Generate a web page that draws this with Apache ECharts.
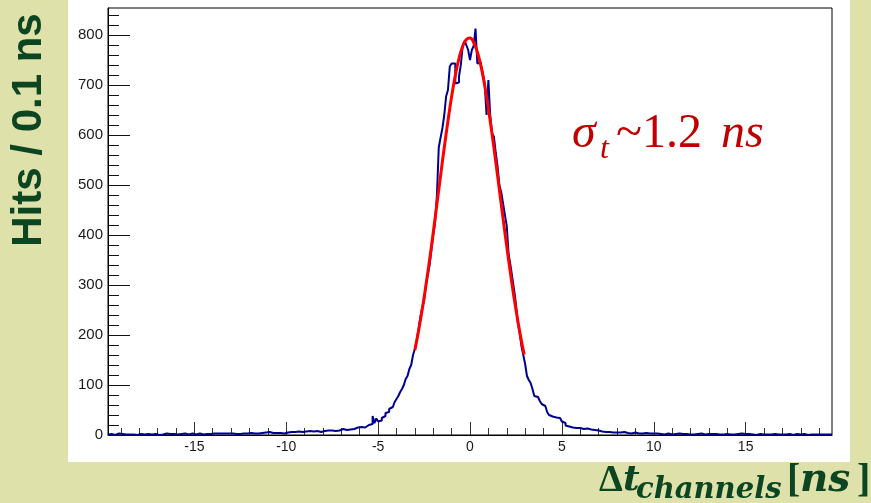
<!DOCTYPE html>
<html>
<head>
<meta charset="utf-8">
<script src="https://cdn.jsdelivr.net/npm/echarts@6/dist/echarts.min.js"></script>
<style>
html,body{margin:0;padding:0;background:#dfe1ab;}
#chart{width:871px;height:503px;}
</style>
</head>
<body>
<div id="chart"></div>
<script>
// Histogram: bin edges start and width (ns)
const binStart = -19.7;
const binWidth = 0.1;
// counts per 0.1 ns bin, -19.7 .. -6.1
const leftTail = [
  1,2,1,0,2,3,1,2,1,1,
  2,1,3,1,2,0,1,2,3,1,
  1,2,2,1,3,2,1,0,2,1,
  2,3,1,2,1,2,0,1,2,2,
  1,3,2,1,2,3,2,1,2,3,
  2,1,3,2,4,2,1,3,2,3,
  4,3,2,3,5,3,2,3,4,2,
  3,2,4,3,5,3,3,4,2,3,
  4,3,5,4,3,5,4,6,3,4,
  5,4,6,4,5,3,6,5,4,6,
  5,6,4,7,5,6,5,7,6,8,
  6,7,5,8,7,6,9,8,7,9,
  8,9,10,8,11,9,10,12,11,10,
  12,11,13,12,14,15,14
];
// -6.0 .. 6.0
const core = [
  16,17,15,19,20,18,22,38,24,33,
  27,29,34,38,44,46,52,56,58,66,
  72,78,86,92,100,112,118,132,140,160,
  172,190,212,236,255,268,300,320,340,370,
  400,425,480,575,595,614,640,677,690,737,
  743,743,703,705,717,740,777,788,780,770,
  750,770,778,813,743,745,740,723,703,640,
  710,640,603,597,565,537,500,485,463,440,
  418,362,340,315,290,262,225,205,178,160,
  142,118,110,104,92,78,76,72,68,62,
  58,54,46,40,37,36,35,36,34,30,
  27,24,19,17,18,15,16,14,13,14,
  12
];
// 6.1 .. 19.6
const rightTail = [
  12,11,13,10,11,9,10,8,9,8,
  7,8,6,7,6,7,5,6,5,6,
  5,4,6,5,4,5,3,4,5,4,
  3,4,3,2,4,3,3,2,3,2,
  3,2,2,3,1,2,3,2,1,2,
  2,1,3,2,2,1,2,3,1,2,
  1,2,2,1,3,2,1,2,2,1,
  2,1,2,3,1,2,1,1,2,3,
  1,2,1,2,2,1,3,1,2,1,
  2,1,1,2,0,1,2,1,1,2,
  1,2,1,0,2,1,1,2,1,0,
  1,1,2,1,0,1,2,1,1,1,
  2,1,0,1,1,2,1,0,1,1,
  1,0,1,2,1,1
];
// Gaussian fit curve points
const fitX = [-3.0,-2.8,-2.6,-2.4,-2.2,-2.0,-1.8,-1.6,-1.4,-1.2,-1.0,-0.8,-0.6,-0.4,-0.2,0.0,0.2,0.4,0.6,0.8,1.0,1.2,1.4,1.6,1.8,2.0,2.2,2.4,2.6,2.8,2.95];
const fitY = [170,208,251,299,350,405,462,519,575,628,677,719,753,777,791,794,785,766,737,699,653,602,547,490,433,377,324,274,229,188,161];
// Axis ticks
const xMajorTicks = [-15,-10,-5,0,5,10,15];
const xMinorTicks = [-19,-18,-17,-16,-14,-13,-12,-11,-9,-8,-7,-6,-4,-3,-2,-1,1,2,3,4,6,7,8,9,11,12,13,14,16,17,18,19];
const yMajorTicks = [0,100,200,300,400,500,600,700,800];
const yMinorTicks = [20,40,60,80,120,140,160,180,220,240,260,280,320,340,360,380,420,440,460,480,520,540,560,580,620,640,660,680,720,740,760,780,820,840];
const xRange = [-19.7, 19.7];
const yRange = [0, 854];

const counts = leftTail.concat(core, rightTail);
const histData = counts.map((c, i) => [+(binStart + i * binWidth).toFixed(1), c]);
histData.push([+(binStart + counts.length * binWidth).toFixed(1), counts[counts.length - 1]]);
const fitData = fitX.map((x, i) => [x, fitY[i]]);

const green = '#0b4522';
const red = '#c00000';
const chart = echarts.init(document.getElementById('chart'));
const labelFont = {fontFamily: 'Liberation Sans, Arial, sans-serif', color: '#1a1a1a'};

chart.setOption({
  animation: false,
  backgroundColor: '#dfe1ab',
  grid: {left: 108, right: 39, top: 8, bottom: 68, show: true, borderColor: '#000', borderWidth: 1, backgroundColor: 'transparent'},
  xAxis: [
    {type: 'value', min: xRange[0], max: xRange[1], position: 'bottom',
     axisLine: {show: true, onZero: false, lineStyle: {color: '#000', width: 1}},
     axisTick: {show: true, inside: true, length: 13, customValues: xMajorTicks, lineStyle: {color: '#333'}},
     axisLabel: Object.assign({customValues: xMajorTicks, fontSize: 14, margin: 5}, labelFont),
     splitLine: {show: false}},
    {type: 'value', min: xRange[0], max: xRange[1], position: 'bottom',
     axisLine: {show: false, onZero: false},
     axisTick: {show: true, inside: true, length: 7, customValues: xMinorTicks, lineStyle: {color: '#333'}},
     axisLabel: {show: false}, splitLine: {show: false}}
  ],
  yAxis: [
    {type: 'value', min: yRange[0], max: yRange[1], position: 'left',
     axisLine: {show: true, onZero: false, lineStyle: {color: '#000', width: 1}},
     axisTick: {show: true, inside: true, length: 22, customValues: yMajorTicks, lineStyle: {color: '#111'}},
     axisLabel: Object.assign({customValues: yMajorTicks, fontSize: 15, margin: 5}, labelFont),
     splitLine: {show: false}},
    {type: 'value', min: yRange[0], max: yRange[1], position: 'left',
     axisLine: {show: false, onZero: false},
     axisTick: {show: true, inside: true, length: 11, customValues: yMinorTicks, lineStyle: {color: '#111'}},
     axisLabel: {show: false}, splitLine: {show: false}}
  ],
  series: [
    {type: 'line', name: 'hist', xAxisIndex: 0, yAxisIndex: 0, step: 'end', data: histData,
     showSymbol: false, symbol: 'none', lineStyle: {color: '#00008f', width: 2}, z: 3},
    {type: 'line', name: 'fit', xAxisIndex: 0, yAxisIndex: 0, smooth: true, data: fitData,
     showSymbol: false, symbol: 'none', lineStyle: {color: '#ff0000', width: 3}, z: 4}
  ],
  graphic: [
    {type: 'rect', z: -10, silent: true, shape: {x: 68, y: 0, width: 782, height: 462}, style: {fill: '#ffffff'}},
    // y-axis title
    {type: 'text', x: 29, y: 130, rotation: Math.PI / 2, style: {text: 'Hits / 0.1 ns', fill: green,
      font: 'bold 42px "Liberation Sans", Arial, sans-serif', align: 'center', verticalAlign: 'middle'}},
    // sigma annotation
    {type: 'text', x: 572, y: 134, style: {text: 'σ', fill: red, font: 'italic 48px "Liberation Serif", serif', align: 'left', verticalAlign: 'middle'}},
    {type: 'text', x: 600, y: 150, style: {text: 't', fill: red, font: 'italic 32px "Liberation Serif", serif', align: 'left', verticalAlign: 'middle'}},
    {type: 'text', x: 616, y: 134, style: {text: '~1.2', fill: red, font: '48px "Liberation Serif", serif', align: 'left', verticalAlign: 'middle'}},
    {type: 'text', x: 721, y: 134, style: {text: 'ns', fill: red, font: 'italic 48px "Liberation Serif", serif', align: 'left', verticalAlign: 'middle'}},
    // x-axis title
    {type: 'text', x: 599, y: 481, style: {text: 'Δ', fill: green, font: 'bold 38px "Liberation Serif", serif', align: 'left', verticalAlign: 'middle'}},
    {type: 'text', x: 623, y: 481, style: {text: 't', fill: green, font: 'bold italic 36px "DejaVu Serif", serif', align: 'left', verticalAlign: 'middle'}},
    {type: 'text', x: 636, y: 490, style: {text: 'channels', fill: green, font: 'bold italic 29px "DejaVu Serif", serif', align: 'left', verticalAlign: 'middle'}},
    {type: 'text', x: 787, y: 481, style: {text: '[', fill: green, font: 'bold 40px "Liberation Serif", serif', align: 'left', verticalAlign: 'middle'}},
    {type: 'text', x: 800, y: 481, style: {text: 'ns', fill: green, font: 'bold italic 39px "DejaVu Serif", serif', align: 'left', verticalAlign: 'middle'}},
    {type: 'text', x: 857, y: 481, style: {text: ']', fill: green, font: 'bold 40px "Liberation Serif", serif', align: 'left', verticalAlign: 'middle'}}
  ]
});
</script>
</body>
</html>
